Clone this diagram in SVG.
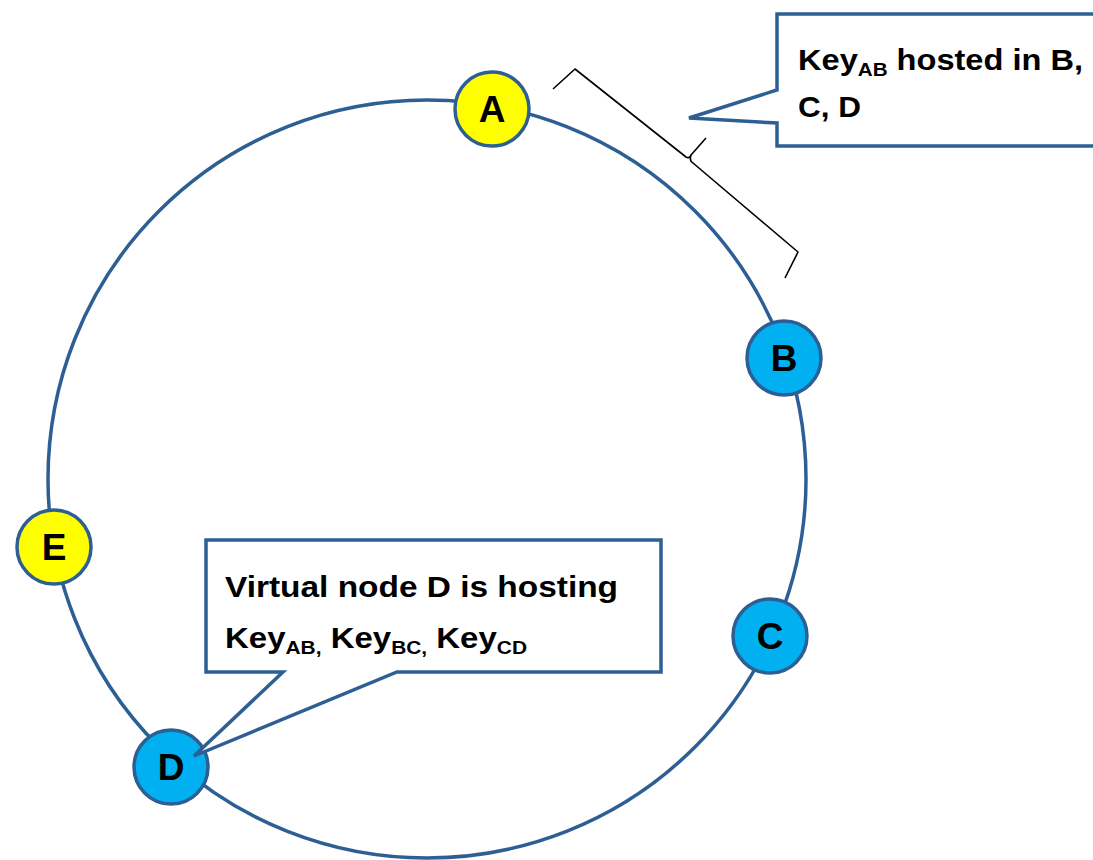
<svg xmlns="http://www.w3.org/2000/svg" width="1093" height="860" viewBox="0 0 1093 860">
<style>
.ring{fill:none;stroke:#2E5F94;stroke-width:3.5}
.node circle{stroke:#2E5F94;stroke-width:3.5}
.blue{fill:#00B0F0}
.yellow{fill:#FFFF00}
.lbl{font-family:"Liberation Sans",Arial,sans-serif;font-weight:bold;font-size:37px;fill:#000;text-anchor:middle}
.callout path{fill:#fff;stroke:#2E5F94;stroke-width:3.5;stroke-linejoin:miter}
.ct{font-family:"Liberation Sans",Arial,sans-serif;font-weight:bold;font-size:30px;fill:#000}
.sub{font-size:19px}
.brace{fill:none;stroke:#000;stroke-width:1.6;stroke-linejoin:round}
</style>
<rect width="1093" height="860" fill="#fff"/>
<g id="connectors">
<circle class="ring" cx="427" cy="479" r="379"/>
<path class="brace" d="M553,89 L575,69 L686,157 Q689,159 691,155 L706,138 M691,155 Q689,161 693,163 L798,252 L785,278"/>
</g>
<g id="A" class="node"><circle class="yellow" cx="492" cy="109" r="37"/><text class="lbl" x="492" y="122">A</text></g>
<g id="B" class="node"><circle class="blue" cx="784" cy="358" r="37"/><text class="lbl" x="784" y="371">B</text></g>
<g id="C" class="node"><circle class="blue" cx="770" cy="636" r="37"/><text class="lbl" x="770" y="649">C</text></g>
<g id="D" class="node"><circle class="blue" cx="171" cy="767" r="37"/><text class="lbl" x="171" y="780">D</text></g>
<g id="E" class="node"><circle class="yellow" cx="54" cy="547" r="37"/><text class="lbl" x="54" y="560">E</text></g>
<g id="callout1" class="callout">
<path d="M777,14 L1100,14 L1100,146 L777,146 L777,123 L689,118 L777,90 Z"/>
<text class="ct" x="798" y="70" textLength="285" lengthAdjust="spacingAndGlyphs">Key<tspan class="sub" dy="6">AB</tspan><tspan dy="-6"> hosted in B,</tspan></text>
<text class="ct" x="798" y="117" textLength="63" lengthAdjust="spacingAndGlyphs">C, D</text>
</g>
<g id="callout2" class="callout">
<path d="M206,540 L661,540 L661,672 L397,672 L194,756 L283,672 L206,672 Z"/>
<text class="ct" x="225" y="597" textLength="393" lengthAdjust="spacingAndGlyphs">Virtual node D is hosting</text>
<text class="ct" x="225" y="648" textLength="302" lengthAdjust="spacingAndGlyphs">Key<tspan class="sub" dy="6">AB,</tspan><tspan dy="-6"> Key</tspan><tspan class="sub" dy="6">BC,</tspan><tspan dy="-6"> Key</tspan><tspan class="sub" dy="6">CD</tspan></text>
</g>
</svg>
